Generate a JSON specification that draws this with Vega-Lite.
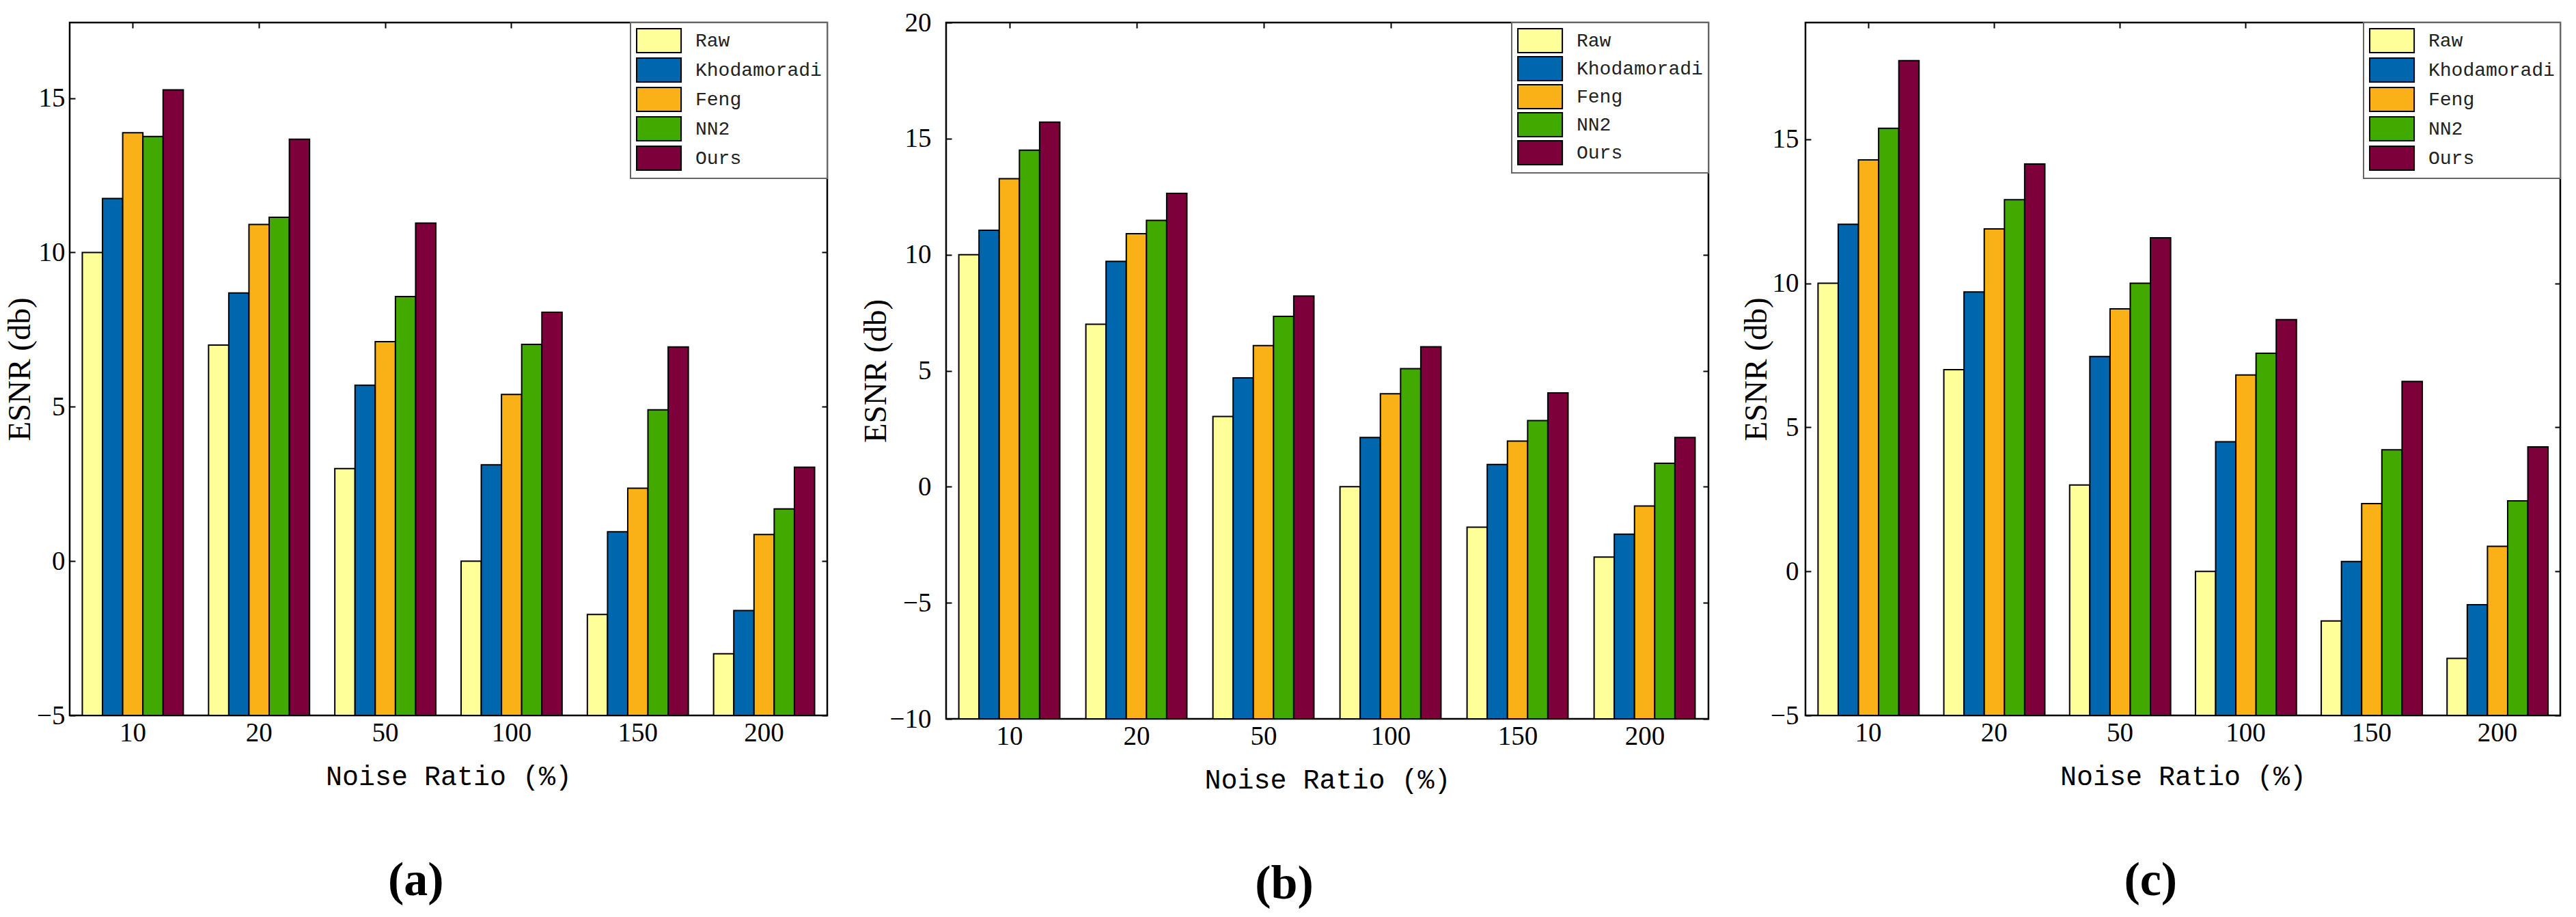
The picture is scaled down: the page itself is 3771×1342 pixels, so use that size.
{
  "$schema": "https://vega.github.io/schema/vega-lite/v6.json",
  "padding": {"left": 4, "top": 12, "right": 5, "bottom": 5},
  "background": "white",
  "data": {
    "values": [
      {"panel": "a", "ratio": "10", "method": "Raw", "esnr": 10},
      {"panel": "a", "ratio": "10", "method": "Khodamoradi", "esnr": 11.75},
      {"panel": "a", "ratio": "10", "method": "Feng", "esnr": 13.88},
      {"panel": "a", "ratio": "10", "method": "NN2", "esnr": 13.76},
      {"panel": "a", "ratio": "10", "method": "Ours", "esnr": 15.27},
      {"panel": "a", "ratio": "20", "method": "Raw", "esnr": 7},
      {"panel": "a", "ratio": "20", "method": "Khodamoradi", "esnr": 8.69},
      {"panel": "a", "ratio": "20", "method": "Feng", "esnr": 10.91},
      {"panel": "a", "ratio": "20", "method": "NN2", "esnr": 11.14},
      {"panel": "a", "ratio": "20", "method": "Ours", "esnr": 13.67},
      {"panel": "a", "ratio": "50", "method": "Raw", "esnr": 3},
      {"panel": "a", "ratio": "50", "method": "Khodamoradi", "esnr": 5.7},
      {"panel": "a", "ratio": "50", "method": "Feng", "esnr": 7.11},
      {"panel": "a", "ratio": "50", "method": "NN2", "esnr": 8.57},
      {"panel": "a", "ratio": "50", "method": "Ours", "esnr": 10.95},
      {"panel": "a", "ratio": "100", "method": "Raw", "esnr": 0},
      {"panel": "a", "ratio": "100", "method": "Khodamoradi", "esnr": 3.12},
      {"panel": "a", "ratio": "100", "method": "Feng", "esnr": 5.4},
      {"panel": "a", "ratio": "100", "method": "NN2", "esnr": 7.02},
      {"panel": "a", "ratio": "100", "method": "Ours", "esnr": 8.06},
      {"panel": "a", "ratio": "150", "method": "Raw", "esnr": -1.73},
      {"panel": "a", "ratio": "150", "method": "Khodamoradi", "esnr": 0.95},
      {"panel": "a", "ratio": "150", "method": "Feng", "esnr": 2.36},
      {"panel": "a", "ratio": "150", "method": "NN2", "esnr": 4.9},
      {"panel": "a", "ratio": "150", "method": "Ours", "esnr": 6.94},
      {"panel": "a", "ratio": "200", "method": "Raw", "esnr": -3},
      {"panel": "a", "ratio": "200", "method": "Khodamoradi", "esnr": -1.6},
      {"panel": "a", "ratio": "200", "method": "Feng", "esnr": 0.86},
      {"panel": "a", "ratio": "200", "method": "NN2", "esnr": 1.69},
      {"panel": "a", "ratio": "200", "method": "Ours", "esnr": 3.04},
      {"panel": "b", "ratio": "10", "method": "Raw", "esnr": 10},
      {"panel": "b", "ratio": "10", "method": "Khodamoradi", "esnr": 11.05},
      {"panel": "b", "ratio": "10", "method": "Feng", "esnr": 13.27},
      {"panel": "b", "ratio": "10", "method": "NN2", "esnr": 14.5},
      {"panel": "b", "ratio": "10", "method": "Ours", "esnr": 15.71},
      {"panel": "b", "ratio": "20", "method": "Raw", "esnr": 7},
      {"panel": "b", "ratio": "20", "method": "Khodamoradi", "esnr": 9.71},
      {"panel": "b", "ratio": "20", "method": "Feng", "esnr": 10.9},
      {"panel": "b", "ratio": "20", "method": "NN2", "esnr": 11.48},
      {"panel": "b", "ratio": "20", "method": "Ours", "esnr": 12.64},
      {"panel": "b", "ratio": "50", "method": "Raw", "esnr": 3.03},
      {"panel": "b", "ratio": "50", "method": "Khodamoradi", "esnr": 4.69},
      {"panel": "b", "ratio": "50", "method": "Feng", "esnr": 6.08},
      {"panel": "b", "ratio": "50", "method": "NN2", "esnr": 7.34},
      {"panel": "b", "ratio": "50", "method": "Ours", "esnr": 8.22},
      {"panel": "b", "ratio": "100", "method": "Raw", "esnr": 0},
      {"panel": "b", "ratio": "100", "method": "Khodamoradi", "esnr": 2.12},
      {"panel": "b", "ratio": "100", "method": "Feng", "esnr": 4.01},
      {"panel": "b", "ratio": "100", "method": "NN2", "esnr": 5.09},
      {"panel": "b", "ratio": "100", "method": "Ours", "esnr": 6.03},
      {"panel": "b", "ratio": "150", "method": "Raw", "esnr": -1.74},
      {"panel": "b", "ratio": "150", "method": "Khodamoradi", "esnr": 0.96},
      {"panel": "b", "ratio": "150", "method": "Feng", "esnr": 1.97},
      {"panel": "b", "ratio": "150", "method": "NN2", "esnr": 2.85},
      {"panel": "b", "ratio": "150", "method": "Ours", "esnr": 4.04},
      {"panel": "b", "ratio": "200", "method": "Raw", "esnr": -3.03},
      {"panel": "b", "ratio": "200", "method": "Khodamoradi", "esnr": -2.04},
      {"panel": "b", "ratio": "200", "method": "Feng", "esnr": -0.83},
      {"panel": "b", "ratio": "200", "method": "NN2", "esnr": 1.01},
      {"panel": "b", "ratio": "200", "method": "Ours", "esnr": 2.12},
      {"panel": "c", "ratio": "10", "method": "Raw", "esnr": 10},
      {"panel": "c", "ratio": "10", "method": "Khodamoradi", "esnr": 12.05},
      {"panel": "c", "ratio": "10", "method": "Feng", "esnr": 14.28},
      {"panel": "c", "ratio": "10", "method": "NN2", "esnr": 15.38},
      {"panel": "c", "ratio": "10", "method": "Ours", "esnr": 17.73},
      {"panel": "c", "ratio": "20", "method": "Raw", "esnr": 7},
      {"panel": "c", "ratio": "20", "method": "Khodamoradi", "esnr": 9.7},
      {"panel": "c", "ratio": "20", "method": "Feng", "esnr": 11.89},
      {"panel": "c", "ratio": "20", "method": "NN2", "esnr": 12.9},
      {"panel": "c", "ratio": "20", "method": "Ours", "esnr": 14.14},
      {"panel": "c", "ratio": "50", "method": "Raw", "esnr": 3},
      {"panel": "c", "ratio": "50", "method": "Khodamoradi", "esnr": 7.46},
      {"panel": "c", "ratio": "50", "method": "Feng", "esnr": 9.11},
      {"panel": "c", "ratio": "50", "method": "NN2", "esnr": 10},
      {"panel": "c", "ratio": "50", "method": "Ours", "esnr": 11.58},
      {"panel": "c", "ratio": "100", "method": "Raw", "esnr": 0},
      {"panel": "c", "ratio": "100", "method": "Khodamoradi", "esnr": 4.5},
      {"panel": "c", "ratio": "100", "method": "Feng", "esnr": 6.82},
      {"panel": "c", "ratio": "100", "method": "NN2", "esnr": 7.57},
      {"panel": "c", "ratio": "100", "method": "Ours", "esnr": 8.74},
      {"panel": "c", "ratio": "150", "method": "Raw", "esnr": -1.72},
      {"panel": "c", "ratio": "150", "method": "Khodamoradi", "esnr": 0.34},
      {"panel": "c", "ratio": "150", "method": "Feng", "esnr": 2.35},
      {"panel": "c", "ratio": "150", "method": "NN2", "esnr": 4.22},
      {"panel": "c", "ratio": "150", "method": "Ours", "esnr": 6.59},
      {"panel": "c", "ratio": "200", "method": "Raw", "esnr": -3.02},
      {"panel": "c", "ratio": "200", "method": "Khodamoradi", "esnr": -1.16},
      {"panel": "c", "ratio": "200", "method": "Feng", "esnr": 0.87},
      {"panel": "c", "ratio": "200", "method": "NN2", "esnr": 2.45},
      {"panel": "c", "ratio": "200", "method": "Ours", "esnr": 4.32}
    ]
  },
  "spacing": 42,
  "hconcat": [
    {
      "width": 1109,
      "height": 1014,
      "title": {"text": "(a)", "orient": "bottom", "anchor": "middle", "frame": "bounds", "offset": 99},
      "transform": [{"filter": "datum.panel === 'a'"}],
      "layer": [
        {
          "mark": {"type": "bar", "stroke": "black", "strokeWidth": 2},
          "encoding": {
            "x": {"field": "ratio", "type": "nominal", "sort": ["10", "20", "50", "100", "150", "200"],
                  "scale": {"paddingInner": 0.2, "paddingOuter": 0.1},
                  "axis": {"orient": "bottom", "title": "Noise Ratio (%)", "labelAngle": 0}},
            "xOffset": {"field": "method", "sort": ["Raw", "Khodamoradi", "Feng", "NN2", "Ours"],
                        "scale": {"paddingInner": 0, "paddingOuter": 0}},
            "y": {"field": "esnr", "type": "quantitative",
                  "scale": {"domain": [-5, 17.45], "nice": false, "zero": false},
                  "axis": {"orient": "left", "title": "ESNR (db)", "values": [-5, 0, 5, 10, 15], "labelPadding": 15, "titlePadding": 0}},
            "y2": {"datum": -5},
            "color": {"field": "method", "type": "nominal",
                      "scale": {"domain": ["Raw", "Khodamoradi", "Feng", "NN2", "Ours"],
                                "range": ["#ffff99", "#0066ae", "#fab017", "#42a900", "#7d003a"]},
                      "legend": {"rowPadding": 0}}
          }
        },
        {
          "mark": {"type": "bar", "opacity": 0},
          "encoding": {
            "x": {"field": "ratio", "type": "nominal", "sort": ["10", "20", "50", "100", "150", "200"],
                  "axis": {"orient": "top", "title": null, "labels": false}},
            "xOffset": {"field": "method", "sort": ["Raw", "Khodamoradi", "Feng", "NN2", "Ours"]},
            "y": {"field": "esnr", "type": "quantitative",
                  "axis": {"orient": "right", "title": null, "labels": false, "values": [-5, 0, 5, 10, 15]}}
          }
        }
      ],
      "resolve": {"axis": {"x": "independent", "y": "independent"}}
    },
    {
      "width": 1116,
      "height": 1019,
      "title": {"text": "(b)", "orient": "bottom", "anchor": "middle", "frame": "bounds", "offset": 99},
      "transform": [{"filter": "datum.panel === 'b'"}],
      "layer": [
        {
          "mark": {"type": "bar", "stroke": "black", "strokeWidth": 2},
          "encoding": {
            "x": {"field": "ratio", "type": "nominal", "sort": ["10", "20", "50", "100", "150", "200"],
                  "scale": {"paddingInner": 0.2, "paddingOuter": 0.1},
                  "axis": {"orient": "bottom", "title": "Noise Ratio (%)", "labelAngle": 0}},
            "xOffset": {"field": "method", "sort": ["Raw", "Khodamoradi", "Feng", "NN2", "Ours"],
                        "scale": {"paddingInner": 0, "paddingOuter": 0}},
            "y": {"field": "esnr", "type": "quantitative",
                  "scale": {"domain": [-10, 20], "nice": false, "zero": false},
                  "axis": {"orient": "left", "title": "ESNR (db)", "values": [-10, -5, 0, 5, 10, 15, 20], "labelPadding": 30, "titlePadding": -4}},
            "y2": {"datum": -10},
            "color": {"field": "method", "type": "nominal",
                      "scale": {"domain": ["Raw", "Khodamoradi", "Feng", "NN2", "Ours"],
                                "range": ["#ffff99", "#0066ae", "#fab017", "#42a900", "#7d003a"]},
                      "legend": {"rowPadding": -2}}
          }
        },
        {
          "mark": {"type": "bar", "opacity": 0},
          "encoding": {
            "x": {"field": "ratio", "type": "nominal", "sort": ["10", "20", "50", "100", "150", "200"],
                  "axis": {"orient": "top", "title": null, "labels": false}},
            "xOffset": {"field": "method", "sort": ["Raw", "Khodamoradi", "Feng", "NN2", "Ours"]},
            "y": {"field": "esnr", "type": "quantitative",
                  "axis": {"orient": "right", "title": null, "labels": false, "values": [-10, -5, 0, 5, 10, 15, 20]}}
          }
        }
      ],
      "resolve": {"axis": {"x": "independent", "y": "independent"}}
    },
    {
      "width": 1105,
      "height": 1014,
      "title": {"text": "(c)", "orient": "bottom", "anchor": "middle", "frame": "bounds", "offset": 99},
      "transform": [{"filter": "datum.panel === 'c'"}],
      "layer": [
        {
          "mark": {"type": "bar", "stroke": "black", "strokeWidth": 2},
          "encoding": {
            "x": {"field": "ratio", "type": "nominal", "sort": ["10", "20", "50", "100", "150", "200"],
                  "scale": {"paddingInner": 0.2, "paddingOuter": 0.1},
                  "axis": {"orient": "bottom", "title": "Noise Ratio (%)", "labelAngle": 0}},
            "xOffset": {"field": "method", "sort": ["Raw", "Khodamoradi", "Feng", "NN2", "Ours"],
                        "scale": {"paddingInner": 0, "paddingOuter": 0}},
            "y": {"field": "esnr", "type": "quantitative",
                  "scale": {"domain": [-5, 19.05], "nice": false, "zero": false},
                  "axis": {"orient": "left", "title": "ESNR (db)", "values": [-5, 0, 5, 10, 15], "labelPadding": 18, "titlePadding": -4}},
            "y2": {"datum": -5},
            "color": {"field": "method", "type": "nominal",
                      "scale": {"domain": ["Raw", "Khodamoradi", "Feng", "NN2", "Ours"],
                                "range": ["#ffff99", "#0066ae", "#fab017", "#42a900", "#7d003a"]},
                      "legend": {"rowPadding": 0}}
          }
        },
        {
          "mark": {"type": "bar", "opacity": 0},
          "encoding": {
            "x": {"field": "ratio", "type": "nominal", "sort": ["10", "20", "50", "100", "150", "200"],
                  "axis": {"orient": "top", "title": null, "labels": false}},
            "xOffset": {"field": "method", "sort": ["Raw", "Khodamoradi", "Feng", "NN2", "Ours"]},
            "y": {"field": "esnr", "type": "quantitative",
                  "axis": {"orient": "right", "title": null, "labels": false, "values": [-5, 0, 5, 10, 15]}}
          }
        }
      ],
      "resolve": {"axis": {"x": "independent", "y": "independent"}}
    }
  ],
  "resolve": {"scale": {"color": "independent"}, "legend": {"color": "independent"}},
  "config": {
    "view": {"stroke": "black", "strokeWidth": 2.5},
    "axis": {
      "domain": false, "grid": false, "zindex": 1,
      "ticks": true, "tickColor": "black", "tickWidth": 2, "tickSize": -8,
      "labelColor": "black", "labelFont": "Liberation Serif", "labelFontSize": 39,
      "titleColor": "black", "titleFontWeight": "normal"
    },
    "axisBottom": {"labelPadding": 14, "titleFont": "Liberation Mono", "titleFontSize": 40, "titlePadding": 24},
    "axisLeft": {"titleFont": "Liberation Serif", "titleFontSize": 47},
    "legend": {
      "orient": "top-right", "offset": 0, "title": null,
      "symbolType": "M-1,-1H2.72V1H-1Z", "symbolSize": 1225,
      "symbolStrokeColor": "black", "symbolStrokeWidth": 2, "symbolOpacity": 1,
      "labelOffset": 50, "labelLimit": 400, "labelAlign": "left",
      "labelFont": "Liberation Mono", "labelFontSize": 28, "labelColor": "#222",
      "padding": 8, "strokeColor": "#666", "strokeWidth": 2, "fillColor": "white"
    },
    "title": {"font": "Liberation Serif", "fontSize": 70, "fontWeight": "bold", "color": "black"}
  }
}
